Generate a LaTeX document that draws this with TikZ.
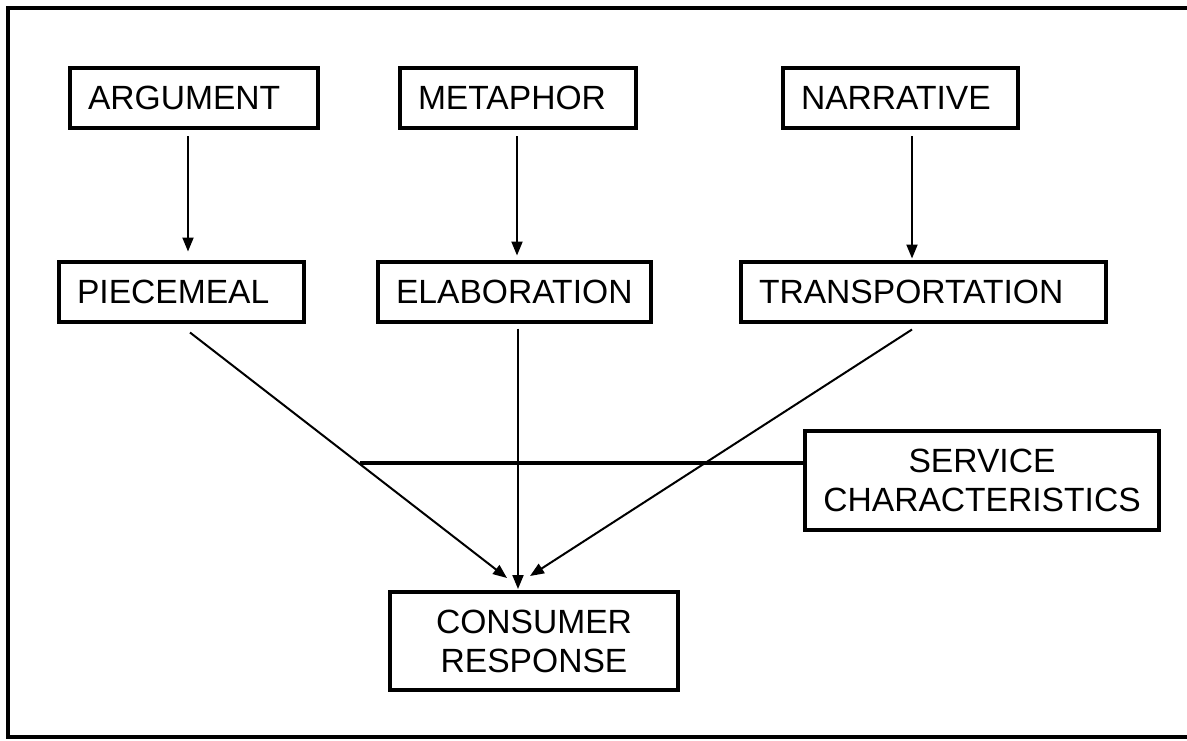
\documentclass[tikz,border=0pt]{standalone}
\usepackage{fontspec}
\setmainfont{Liberation Sans}
\usetikzlibrary{arrows.meta,calc}

\begin{document}
\begin{tikzpicture}[
        x=0.5pt, y=-0.5pt,
        every node/.style={font=\fontsize{16.8}{19.5}\selectfont},
        leftbox/.style={rectangle, draw, line width=2pt, minimum height=30pt, inner xsep=9pt, align=left},
        midbox/.style={rectangle, draw, line width=2pt, align=center},
        arr/.style={-{Triangle[length=7pt,width=5.5pt]}, line width=1pt},
      ]
      \useasboundingbox (0,0) rectangle (1187,740);
      %Frame
      \draw[line width=2pt] (1187,8) -- (8,8) -- (8,737) -- (1187,737);

      %Nodes
      \node[leftbox, text width=106pt] (argument)       at (194,98)    {ARGUMENT};
      \node[leftbox, text width=100pt] (metaphor)       at (518,98)    {METAPHOR};
      \node[leftbox, text width=99.5pt] (narrative)     at (900.5,98)  {NARRATIVE};

      \node[leftbox, text width=104.5pt] (piecemeal)    at (181.5,291.5) {PIECEMEAL};
      \node[leftbox, text width=118.5pt] (elaboration)  at (514.5,291.5) {ELABORATION};
      \node[leftbox, text width=164.5pt] (transportation) at (923.5,291.5) {TRANSPORTATION};

      \node[midbox, minimum width=177pt, minimum height=49.5pt] (service)  at (982,480.5) {SERVICE\\CHARACTERISTICS};
      \node[midbox, minimum width=144pt, minimum height=49pt]   (consumer) at (534,641)   {CONSUMER\\RESPONSE};

      \coordinate (joint) at (360,463);

      %Lines
      \draw[arr] ($(argument.south)+(-6,6)$) -- ($(piecemeal.north)+(6.5,-8)$);
      \draw[arr] ($(metaphor.south)+(-1,6)$) -- ($(elaboration.north)+(2.5,-4)$);
      \draw[arr] ($(narrative.south)+(11.5,6)$) -- ($(transportation.north)+(-11.5,-1)$);

      \draw[arr] ($(piecemeal.south)+(8.5,9)$) -- ($(consumer.north)+(-27,-12)$);
      \draw[arr] ($(elaboration.south)+(3.5,5)$) -- ($(consumer.north)+(-16,-1)$);
      \draw[arr] ($(transportation.south)+(-11.5,6)$) -- ($(consumer.north)+(-4,-14)$);

      \draw[line width=1.8pt] ($(service.west)+(0,-17.5)$) -- (joint);
    \end{tikzpicture}
\end{document}
